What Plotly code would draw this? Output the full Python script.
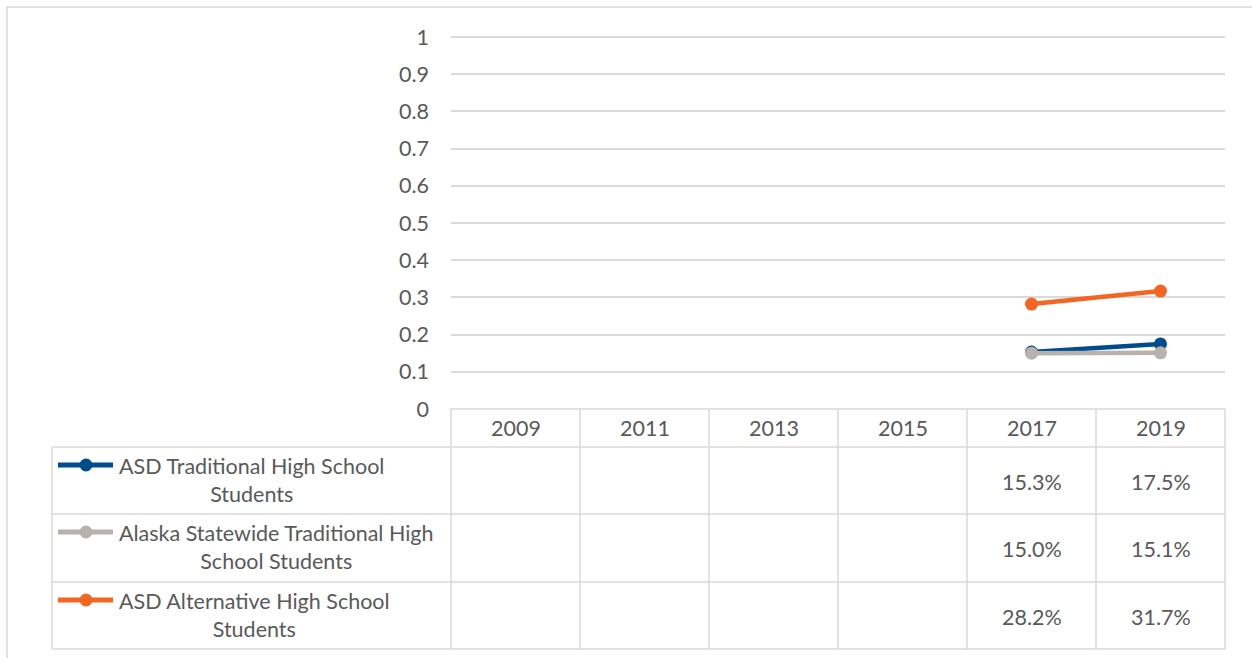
import plotly.graph_objects as go

W, H = 1252, 658

years = ["2009", "2011", "2013", "2015", "2017", "2019"]
series_names = [
    "ASD Traditional High School<br>Students",
    "Alaska Statewide Traditional High<br>School Students",
    "ASD Alternative High School<br>Students",
]
asd_traditional = [None, None, None, None, 0.153, 0.175]
statewide_traditional = [None, None, None, None, 0.150, 0.151]
asd_alternative = [None, None, None, None, 0.282, 0.317]
y_ticks = [0, 0.1, 0.2, 0.3, 0.4, 0.5, 0.6, 0.7, 0.8, 0.9, 1]
y_tick_labels = ["0", "0.1", "0.2", "0.3", "0.4", "0.5", "0.6", "0.7", "0.8", "0.9", "1"]

colors = ["#004C8C", "#B8B1AC", "#F26522"]
series_values = [asd_traditional, statewide_traditional, asd_alternative]

FONT = "Lato"
FS = 21.5
TXT = "#595959"
GRID = "#D9D9D9"


def px(x):
    return x / W


def py(y):
    return 1 - y / H


# layout geometry (pixels)
PL, PR = 451, 1225      # plot area left/right
PT, PB = 37, 409        # y=1 and y=0
YMAX = 1.01             # small headroom so the gridline at 1 is drawn
PT_DOM = PB - (PB - PT) * YMAX
HDR_B = 447             # bottom of header row
ROW_B = [514, 582, 649]  # bottom of each series row
TL = 52                 # left edge of table
COL_X = [451, 580, 709, 838, 967, 1096, 1225]

fig = go.Figure()
for name, vals, col in zip(series_names, series_values, colors):
    fig.add_trace(go.Scatter(
        x=years, y=vals, mode="lines+markers", name=name.replace("<br>", " "),
        line=dict(color=col, width=4.5), marker=dict(color=col, size=13),
        connectgaps=False, showlegend=False, hoverinfo="skip",
    ))

shapes = []
# outer chart border
shapes.append(dict(type="rect", xref="paper", yref="paper",
                   x0=px(7), x1=px(1262), y0=py(7), y1=py(670),
                   line=dict(color=GRID, width=1.5), layer="below"))
# table lines
line_style = dict(color=GRID, width=1.5)
shapes.append(dict(type="line", xref="paper", yref="paper", x0=px(PL), x1=px(PR),
                   y0=py(PB), y1=py(PB), line=line_style))
for yb in [HDR_B] + ROW_B:
    shapes.append(dict(type="line", xref="paper", yref="paper", x0=px(TL), x1=px(PR),
                       y0=py(yb), y1=py(yb), line=line_style))
shapes.append(dict(type="line", xref="paper", yref="paper", x0=px(TL), x1=px(TL),
                   y0=py(HDR_B), y1=py(ROW_B[-1]), line=line_style))
for cx in COL_X:
    shapes.append(dict(type="line", xref="paper", yref="paper", x0=px(cx), x1=px(cx),
                       y0=py(PB), y1=py(ROW_B[-1]), line=line_style))

annotations = []
# header years (positioned by category index on the x axis)
for i, yr in enumerate(years):
    annotations.append(dict(x=i, xref="x", y=py((PB + HDR_B) / 2), yref="paper",
                            text=yr, showarrow=False, xanchor="center", yanchor="middle",
                            font=dict(family=FONT, size=FS, color=TXT)))
row_tops = [HDR_B] + ROW_B[:-1]
for r, (name, vals, col) in enumerate(zip(series_names, series_values, colors)):
    top, bot = row_tops[r], ROW_B[r]
    ky = top + 18
    shapes.append(dict(type="line", xref="paper", yref="paper", x0=px(58), x1=px(113),
                       y0=py(ky), y1=py(ky), line=dict(color=col, width=5)))
    shapes.append(dict(type="circle", xref="paper", yref="paper",
                       x0=px(79.5), x1=px(92.5), y0=py(ky - 6.5), y1=py(ky + 6.5),
                       fillcolor=col, line=dict(color=col, width=0)))
    annotations.append(dict(x=px(117), xref="paper", y=py((top + bot) / 2 - 1), yref="paper",
                            text=name, showarrow=False, xanchor="left", yanchor="middle",
                            align="center",
                            font=dict(family=FONT, size=FS, color=TXT)))
    for i, v in enumerate(vals):
        if v is None:
            continue
        annotations.append(dict(x=i, xref="x", y=py((top + bot) / 2 + 1), yref="paper",
                                text=f"{v * 100:.1f}%", showarrow=False,
                                xanchor="center", yanchor="middle",
                                font=dict(family=FONT, size=FS, color=TXT)))

fig.update_layout(
    width=W, height=H, margin=dict(l=0, r=0, t=0, b=0),
    paper_bgcolor="white", plot_bgcolor="white",
    xaxis=dict(type="category", categoryorder="array", categoryarray=years,
               range=[-0.5, 5.5], domain=[px(PL), px(PR)], showticklabels=False,
               showgrid=False, zeroline=False, showline=False, ticks="", automargin=False),
    yaxis=dict(range=[0, YMAX], domain=[py(PB), py(PT_DOM)], tickvals=y_ticks,
               ticktext=y_tick_labels,
               showgrid=True, gridcolor=GRID, gridwidth=1.5, zeroline=False, showline=False,
               ticks="", ticklabelstandoff=21, automargin=False,
               tickfont=dict(family=FONT, size=FS, color=TXT)),
    shapes=shapes, annotations=annotations, showlegend=False,
)

fig.write_html("out.html")
